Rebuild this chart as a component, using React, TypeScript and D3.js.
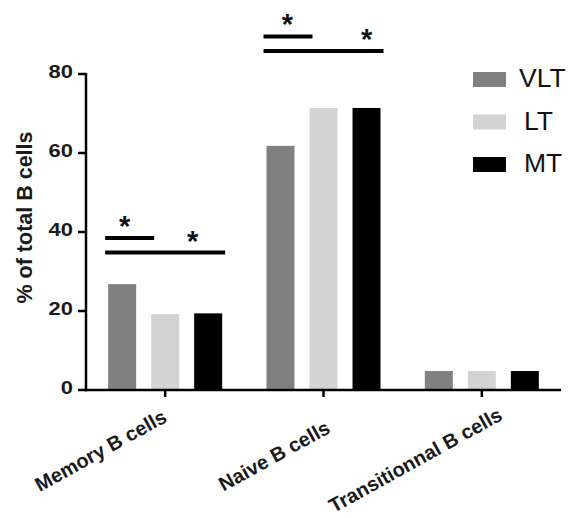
import React from "react";
import * as d3 from "d3";

const categories = ["Memory B cells", "Naive B cells", "Transitionnal B cells"];
const seriesNames = ["VLT", "LT", "MT"];
const seriesColors = ["#808080", "#d3d3d3", "#000000"];
const vltValues = [26.8, 61.8, 4.8];
const ltValues = [19.2, 71.4, 4.8];
const mtValues = [19.4, 71.4, 4.8];
const yTicks = [0, 20, 40, 60, 80];
// significance brackets: category index, from series, to series, height value
const sigCategory = [0, 0, 1, 1];
const sigFrom = [0, 0, 0, 0];
const sigTo = [1, 2, 1, 2];
const sigValue = [38.5, 34.8, 89.5, 85.8];

// layout only: star position along each bracket, label placement
const starPos = [0.4, 0.73, 0.49, 0.86];
const labelDx = [3, 8, 22];
const labelDy = [31, 42, 29];

const W = 573;
const H = 518;
const FONT = "'Liberation Sans', Arial, sans-serif";

export default function App() {
  const left = 86;
  const right = 561;
  const y = d3.scaleLinear().domain([0, 80]).range([390, 74]);
  const x = d3.scaleBand<string>().domain(categories).range([left, right]).padding(0);
  const inner = d3.scaleBand<string>().domain(seriesNames).range([-57, 57]).paddingInner(0.349).paddingOuter(0);
  const series = [vltValues, ltValues, mtValues];
  const cx = (c: string) => (x(c) as number) + x.bandwidth() / 2;
  const bw = inner.bandwidth();

  return (
    <svg width={W} height={H} style={{ position: "absolute", left: 0, top: 0, background: "#fff" }}>
      {/* bars */}
      {categories.map((c, ci) =>
        seriesNames.map((s, si) => (
          <rect
            key={c + s}
            x={cx(c) + (inner(s) as number)}
            y={y(series[si][ci])}
            width={bw}
            height={y(0) - y(series[si][ci])}
            fill={seriesColors[si]}
          />
        ))
      )}
      {/* y axis */}
      <line x1={left} x2={left} y1={y(80) - 1} y2={y(0) + 1.2} stroke="#000" strokeWidth={2.5} />
      {yTicks.map((t) => (
        <g key={t}>
          <line x1={left - 8} x2={left} y1={y(t)} y2={y(t)} stroke="#000" strokeWidth={2.5} />
          <text
            transform={`translate(${left - 13},${y(t) + 4}) scale(1.22,1)`}
            textAnchor="end"
            fontFamily={FONT}
            fontWeight="bold"
            fontSize={18}
            fill="#1a1a1a"
          >
            {t}
          </text>
        </g>
      ))}
      <text
        transform={`translate(32,217.5) rotate(-90)`}
        textAnchor="middle"
        fontFamily={FONT}
        fontWeight="bold"
        fontSize={21.5}
        fill="#1a1a1a"
      >
        % of total B cells
      </text>
      {/* x axis */}
      <line x1={left - 1.2} x2={right} y1={y(0)} y2={y(0)} stroke="#000" strokeWidth={2.5} />
      {categories.map((c, ci) => (
        <g key={c}>
          <line x1={cx(c)} x2={cx(c)} y1={y(0)} y2={y(0) + 7} stroke="#000" strokeWidth={2.5} />
          <text
            transform={`translate(${cx(c) + labelDx[ci]},${y(0) + labelDy[ci]}) rotate(-29)`}
            textAnchor="end"
            fontFamily={FONT}
            fontWeight="bold"
            fontSize={20}
            fill="#1a1a1a"
          >
            {c}
          </text>
        </g>
      ))}
      {/* significance */}
      {sigCategory.map((ci, i) => {
        const c = categories[ci];
        const x1 = cx(c) + (inner(seriesNames[sigFrom[i]]) as number) - 3;
        const x2 = cx(c) + (inner(seriesNames[sigTo[i]]) as number) + bw + 3 - (sigTo[i] === 1 ? 28 : 0);
        const yy = y(sigValue[i]);
        const sx = x1 + (x2 - x1) * starPos[i];
        return (
          <g key={i}>
            <line x1={x1} x2={x2} y1={yy} y2={yy} stroke="#000" strokeWidth={4} />
            <text x={sx} y={yy - 2} textAnchor="middle" fontFamily={FONT} fontWeight="bold" fontSize={29} fill="#111">
              *
            </text>
          </g>
        );
      })}
      {/* legend */}
      {seriesNames.map((s, si) => (
        <g key={s}>
          <rect x={473} y={72 + si * 42.5} width={33} height={15} fill={seriesColors[si]} />
          <text x={si === 0 ? 519 : 524} y={87 + si * 42.5} fontFamily={FONT} fontSize={26.5} fill="#111">
            {s}
          </text>
        </g>
      ))}
    </svg>
  );
}
